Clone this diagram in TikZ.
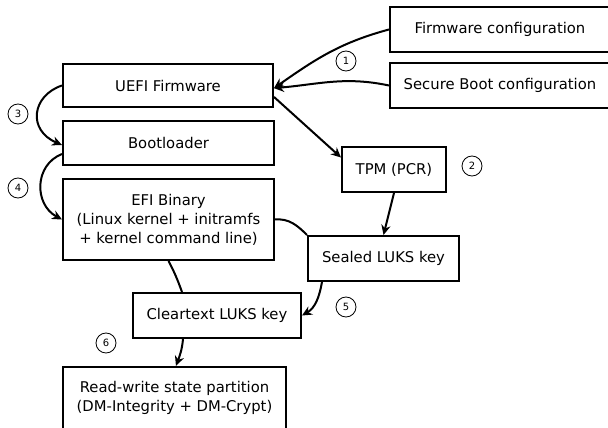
\documentclass[tikz,border=0pt]{standalone}
\usepackage{fontspec}
\setmainfont{DejaVu Sans}
\usetikzlibrary{arrows.meta}
\begin{document}
\begin{tikzpicture}[x=0.75pt,y=-0.75pt,
  box/.style={draw,line width=1.5pt,inner sep=0pt,align=center,
    font=\fontsize{11.1}{14.25}\selectfont},
  conn/.style={line width=1.5pt},
  arr/.style={conn,-{Stealth[length=7.5pt,width=7pt,inset=2.5pt]}},
  num/.style={circle,draw,line width=0.6pt,minimum size=15pt,inner sep=0pt,
    font=\fontsize{7.5}{8}\selectfont}]
\useasboundingbox (0,0) rectangle (608,428);
\clip (0,0) rectangle (608,428);
% boxes
\node[box,minimum width=157.5pt,minimum height=32.25pt] (uefi) at (168,85.5) {UEFI Firmware};
\node[box,minimum width=158.25pt,minimum height=33pt] (boot) at (168.5,143) {Bootloader};
\node[box,minimum width=158.25pt,minimum height=60.75pt] (efi) at (168.5,219.5) {EFI Binary\\(Linux kernel + initramfs\\+ kernel command line)};
\node[box,minimum width=126pt,minimum height=33.75pt] (clear) at (217,315.5) {Cleartext LUKS key};
\node[box,minimum width=167.25pt,minimum height=46.5pt] (rw) at (174.5,398) {Read-write state partition\\(DM-Integrity + DM-Crypt)};
\node[box,minimum width=165pt,minimum height=33.75pt] (fwc) at (500,29.5) {Firmware configuration};
\node[box,minimum width=165pt,minimum height=33.75pt] (sbc) at (500,85.5) {Secure Boot configuration};
\node[box,minimum width=78pt,minimum height=33.75pt] (tpm) at (394,169.5) {TPM (PCR)};
\node[box,minimum width=113.25pt,minimum height=33.75pt] (sealed) at (383.5,258.5) {Sealed LUKS key};
% number circles
\node[num] (n1) at (346,61) {1};
\node[num] (n2) at (472,166) {2};
\node[num] (n3) at (18,114) {3};
\node[num] (n4) at (18,188) {4};
\node[num] (n5) at (346,307) {5};
\node[num] (n6) at (106,343) {6};
% connectors
\coordinate (uin) at ([yshift=-2pt]uefi.east);
\draw[arr] (fwc.west) to[out=195,in=35] (uin);
\draw[arr] (sbc.west) to[out=168,in=5] (uin);
\draw[arr] ([yshift=-8.6pt]uefi.east) -- ([yshift=9pt]tpm.west);
\draw[arr] (tpm.south) -- (sealed.north);
\draw[conn] (efi.east) to[out=5,in=135] (sealed.north west);
\draw[arr] ([xshift=11.25pt]sealed.south west) to[out=-100,in=30] (clear.east);
\draw[conn] (efi.south) to[out=-62,in=110] ([xshift=-26.25pt]clear.north);
\draw[arr] ([xshift=-25.5pt]clear.south) to[out=-95,in=70] ([xshift=1.1pt]rw.north);
\draw[arr] (uefi.west) .. controls +(-30,10) and +(-35,-15) .. ([yshift=-1.5pt]boot.west);
\draw[arr] ([yshift=-8.25pt]boot.west) .. controls +(-28,11) and +(-28,-15) .. (efi.west);
\end{tikzpicture}
\end{document}
